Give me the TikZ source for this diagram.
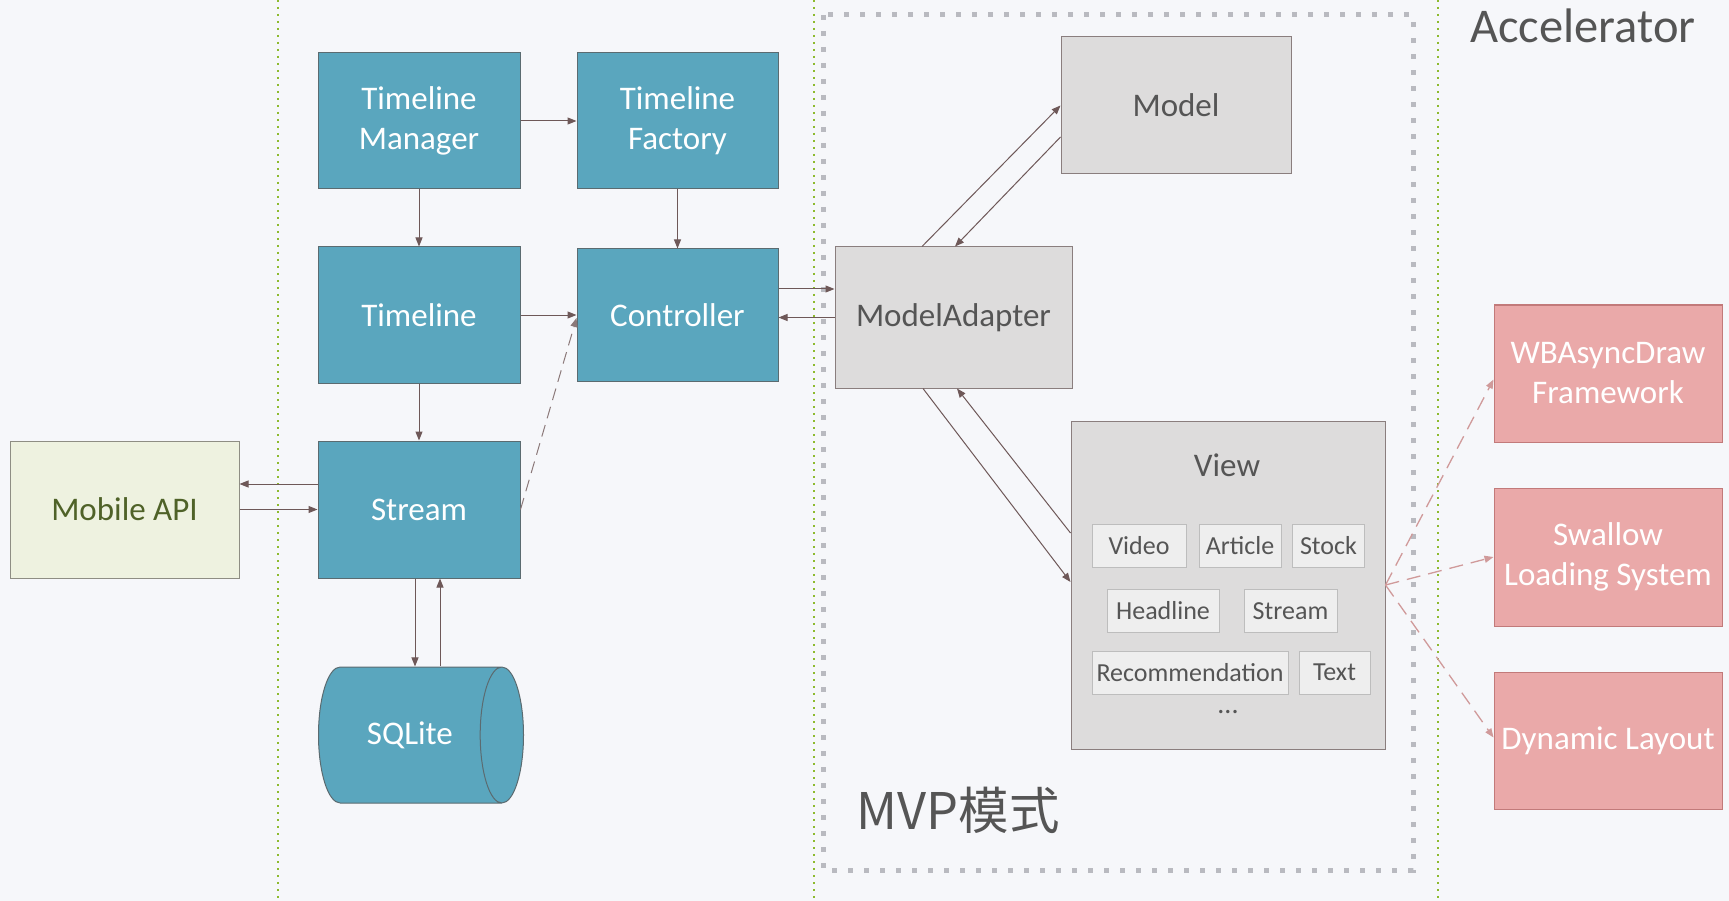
\documentclass[tikz,border=0pt]{standalone}
\usepackage{fontspec}
\setmainfont{Carlito}
\newfontfamily\cjk{Noto Sans CJK SC}
\usepackage{tikz}
\usetikzlibrary{calc,arrows.meta,shapes.geometric}
\definecolor{tealfill}{HTML}{5AA6BE}
\definecolor{tealline}{HTML}{5B6B70}
\definecolor{grayfill}{HTML}{DDDCDC}
\definecolor{grayline}{HTML}{8A7E7E}
\definecolor{apifill}{HTML}{EEF2E0}
\definecolor{apiline}{HTML}{8E8E84}
\definecolor{apitext}{HTML}{4F6228}
\definecolor{pinkfill}{HTML}{EAA9A9}
\definecolor{pinkline}{HTML}{C27A7A}
\definecolor{pinkarrow}{HTML}{D09A9A}
\definecolor{arrowcol}{HTML}{6E5858}
\definecolor{darktext}{HTML}{555555}
\definecolor{subfill}{HTML}{EEEEEE}
\definecolor{subline}{HTML}{BDBDBD}
\definecolor{greendot}{HTML}{8DBA2E}
\definecolor{mvpdot}{HTML}{B9BAC0}
\definecolor{bgcol}{HTML}{F6F7FA}
\tikzset{x=1pt, y=-1pt,
    base box/.style={draw, line width=1pt, minimum height=136pt, inner sep=0pt,
           align=center, font=\fontsize{33}{40}\selectfont},
    teal box/.style={base box, fill=tealfill, draw=tealline, text=white,
           minimum width=202pt},
    gray box/.style={base box, fill=grayfill, draw=grayline, text=darktext},
    pink box/.style={base box, fill=pinkfill, draw=pinkline, text=white,
           minimum width=228pt, minimum height=137pt},
    sub box/.style={draw=subline, fill=subfill, line width=1pt,
           minimum height=43pt, inner sep=0pt, text=darktext,
           font=\fontsize{26}{30}\selectfont},
    flow/.style={draw=arrowcol, line width=1pt,
           -{Triangle[length=9pt,width=7pt]}},
    soft flow/.style={flow, draw=arrowcol!80, dash pattern=on 12pt off 7pt},
    pink flow/.style={flow, draw=pinkarrow, line width=1.3pt,
           dash pattern=on 14pt off 8pt},
    zone line/.style={draw=greendot, line width=2pt, dash pattern=on 2pt off 5pt},
    mvp border/.style={draw=mvpdot, line width=5pt, dash pattern=on 5pt off 11pt}
}
\begin{document}
\begin{tikzpicture}
\fill[bgcol] (0,0) rectangle (1729,901);
\useasboundingbox (0,0) rectangle (1729,901);
% zones
\foreach \x in {278,814,1438}
  \draw[zone line] (\x,0) -- (\x,901);
\draw[mvp border] (823,15) rectangle (1413,870);
\node[text=darktext, font=\fontsize{48.5}{52}\selectfont] (accel) at (1583,26) {Accelerator};
\node[text=darktext, font=\cjk\fontsize{50.5}{54}\selectfont] (mvp) at (958,810) {MVP模式};

% timeline side
\node[teal box] (manager) at (419,121) {Timeline\\Manager};
\node[teal box, minimum width=201pt] (factory) at (677.5,121) {Timeline\\Factory};
\node[teal box] (timeline) at (419,315) {Timeline};
\node[teal box, minimum width=201pt, minimum height=132pt] (controller) at (677.5,315) {Controller};
\node[teal box, minimum height=137pt] (stream) at (419,509.5) {Stream};
\node[base box, fill=apifill, draw=apiline, text=apitext, minimum width=229pt,
      minimum height=137pt] (api) at (124.5,509.5) {Mobile API};
\node[shape=cylinder, shape aspect=1.6, draw=tealline, fill=tealfill, line width=1pt,
      text=white, minimum width=136pt, minimum height=205pt, inner sep=0pt,
      anchor=west, font=\fontsize{33}{40}\selectfont] (sqlite) at (318,735) {SQLite};

% MVP
\node[gray box, minimum width=230pt, minimum height=137pt] (model) at (1176,105.5) {Model};
\node[gray box, minimum width=237pt, minimum height=141pt] (adapter) at (953.5,317.5) {ModelAdapter};
\node[gray box, minimum width=314pt, minimum height=328pt] (view) at (1228,585) {};
\node[text=darktext, font=\fontsize{33}{40}\selectfont] (viewlabel) at (1227,465) {View};
\node[sub box, minimum width=94pt] (video) at (1139,546) {Video};
\node[sub box, minimum width=82pt] (article) at (1240,546) {Article};
\node[sub box, minimum width=72pt] (stock) at (1328.5,546) {Stock};
\node[sub box, minimum width=112pt] (headline) at (1163,611) {Headline};
\node[sub box, minimum width=93pt] (vstream) at (1290.5,611) {Stream};
\node[sub box, minimum width=196pt] (recommend) at (1190,672.5) {Recommendation};
\node[sub box, minimum width=71pt] (text) at (1334.5,672.5) {Text};
\node[text=darktext, font=\fontsize{28}{30}\selectfont] (more) at (1228,712) {...};

% accelerator
\node[pink box] (wbdraw) at (1608,373.5) {WBAsyncDraw\\Framework};
\node[pink box, minimum height=138pt] (swallow) at (1608,557) {Swallow\\Loading System};
\node[pink box] (dynamic) at (1608,740.5) {Dynamic Layout};

% connectors
\draw[flow] (manager) -- (factory);
\draw[flow] (manager) -- (timeline);
\draw[flow] (factory) -- (controller);
\draw[flow] (timeline) -- (controller);
\draw[flow] (timeline) -- (stream);
\coordinate (c1) at ([yshift=26pt]controller.east);
\draw[flow] (c1) -- (c1 -| adapter.west);
\draw[flow] (adapter.west) -- (adapter.west -| controller.east);
\coordinate (s1) at ([yshift=25.5pt]stream.west);
\draw[flow] (s1) -- (s1 -| api.east);
\draw[flow] (api) -- (stream);
\coordinate (q1) at ([xshift=-4pt]stream.south);
\coordinate (q2) at ([xshift=21pt]stream.south);
\draw[flow] (q1) -- (q1 |- sqlite.north);
\draw[flow] (q2 |- sqlite.north) -- (q2);
\draw[soft flow] (stream.east) -- ([yshift=-3pt]controller.west);
\draw[flow] ([xshift=-31.5pt]adapter.north) -- (model.west);
\draw[flow] ([yshift=-31.5pt]model.west) -- ([xshift=1.5pt]adapter.north);
\draw[flow] ([xshift=-30.5pt]adapter.south) -- ([yshift=3pt]view.west);
\draw[flow] ([yshift=52pt]view.west) -- ([xshift=3.5pt]adapter.south);
\foreach \target/\shift in {wbdraw/-6pt, swallow/0pt, dynamic/3pt}
  \draw[pink flow] (view.east) -- ([yshift=\shift]\target.west);
\end{tikzpicture}
\end{document}
